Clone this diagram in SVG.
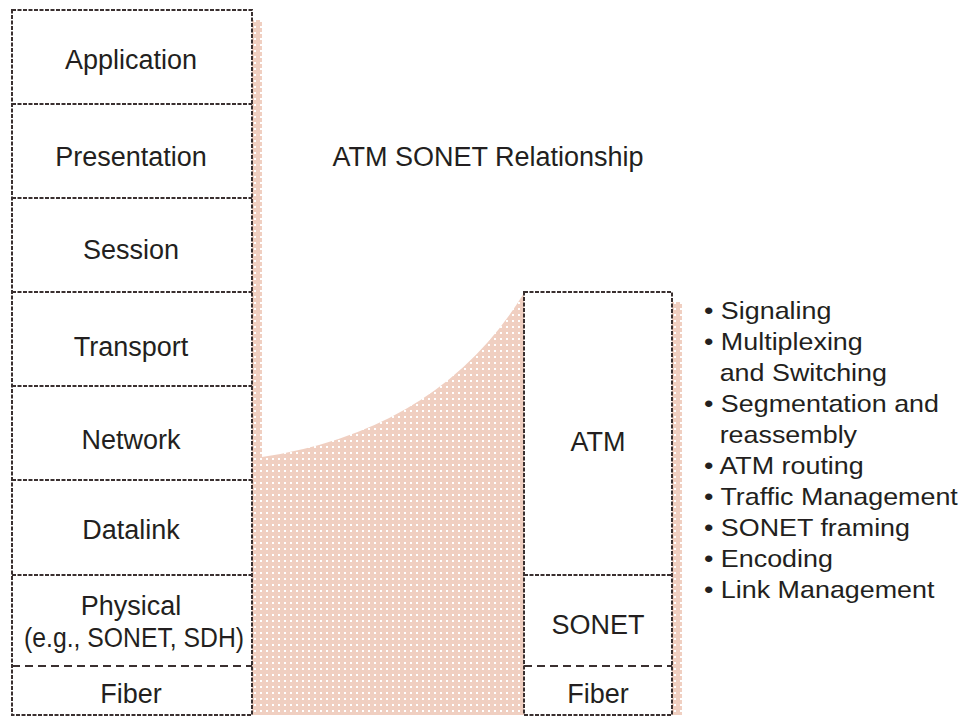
<svg xmlns="http://www.w3.org/2000/svg" width="968" height="717" viewBox="0 0 968 717">
<style>
.box{fill:#fff;stroke:#3a3030;stroke-width:2;stroke-dasharray:4 1.5}
.div{stroke:#3a3030;stroke-width:2;stroke-dasharray:4 1.5;fill:none}
.div2{stroke:#3a3030;stroke-width:1.8;stroke-dasharray:8 5;fill:none}
.lbl{font-family:"Liberation Sans",Arial,sans-serif;font-size:27px;fill:#231f20;text-anchor:middle}
.blt{font-family:"Liberation Sans",Arial,sans-serif;font-size:24px;fill:#231f20}
</style>
<defs>
<pattern id="dots" width="6" height="6" patternUnits="userSpaceOnUse">
<rect width="6" height="6" fill="#f0cfc1"/>
<rect x="2" y="2" width="2" height="2" fill="#fff"/>
</pattern>
</defs>
<rect width="968" height="717" fill="#fff"/>
<g id="shading">
<rect x="252" y="20" width="10" height="695" fill="url(#dots)"/>
<path d="M262,457 Q440,430 524,293 L524,715 L262,715 Z" fill="url(#dots)"/>
<rect x="672" y="302" width="10" height="413" fill="url(#dots)"/>
</g>
<g id="title"><text class="lbl" x="488" y="166">ATM SONET Relationship</text></g>
<g id="osi-stack">
<rect class="box" x="12" y="10" width="240" height="705"/>
<g id="application"><text class="lbl" x="131" y="69">Application</text></g>
<line class="div" x1="12" y1="104" x2="252" y2="104"/>
<g id="presentation"><text class="lbl" x="131" y="166">Presentation</text></g>
<line class="div" x1="12" y1="198" x2="252" y2="198"/>
<g id="session"><text class="lbl" x="131" y="259">Session</text></g>
<line class="div" x1="12" y1="292" x2="252" y2="292"/>
<g id="transport"><text class="lbl" x="131" y="356">Transport</text></g>
<line class="div" x1="12" y1="386" x2="252" y2="386"/>
<g id="network"><text class="lbl" x="131" y="449">Network</text></g>
<line class="div" x1="12" y1="480" x2="252" y2="480"/>
<g id="datalink"><text class="lbl" x="131" y="539">Datalink</text></g>
<line class="div" x1="12" y1="575" x2="252" y2="575"/>
<g id="physical"><text class="lbl" x="131" y="615">Physical</text><text class="lbl" x="134" y="647" textLength="220" lengthAdjust="spacingAndGlyphs">(e.g., SONET, SDH)</text></g>
<line class="div2" x1="12" y1="666" x2="252" y2="666"/>
<g id="fiber-left"><text class="lbl" x="131" y="703">Fiber</text></g>
</g>
<g id="atm-stack">
<rect class="box" x="524" y="292" width="148" height="423"/>
<g id="atm"><text class="lbl" x="598" y="451">ATM</text></g>
<line class="div" x1="524" y1="575" x2="672" y2="575"/>
<g id="sonet"><text class="lbl" x="598" y="634">SONET</text></g>
<line class="div2" x1="524" y1="666" x2="672" y2="666"/>
<g id="fiber-right"><text class="lbl" x="598" y="703">Fiber</text></g>
</g>
<g id="functions" class="blt" transform="translate(704,0) scale(1.12,1)">
<text x="0" y="319">• Signaling</text>
<text x="0" y="350">• Multiplexing</text>
<text x="14" y="381">and Switching</text>
<text x="0" y="412">• Segmentation and</text>
<text x="14" y="443">reassembly</text>
<text x="0" y="474">• ATM routing</text>
<text x="0" y="505">• Traffic Management</text>
<text x="0" y="536">• SONET framing</text>
<text x="0" y="567">• Encoding</text>
<text x="0" y="598">• Link Management</text>
</g>
<g id="connectors"></g>
</svg>
